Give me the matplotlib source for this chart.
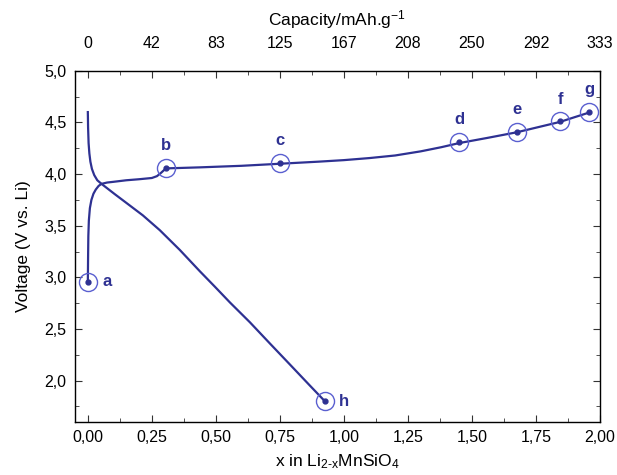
import matplotlib
matplotlib.use("Agg")
import matplotlib.pyplot as plt
from matplotlib.ticker import MultipleLocator, FuncFormatter

plt.rcParams['font.family'] = ['Liberation Sans', 'DejaVu Sans']
plt.rcParams['mathtext.fontset'] = 'custom'
plt.rcParams['mathtext.rm'] = 'Liberation Sans'
plt.rcParams['mathtext.it'] = 'Liberation Sans'

# charge curve (x in Li2-xMnSiO4, voltage)
charge_x = [0.0, 0.001, 0.002, 0.004, 0.008, 0.014, 0.022, 0.031, 0.042, 0.053, 0.075,
            0.10, 0.15, 0.20, 0.25, 0.27, 0.285, 0.305,
            0.4375, 0.60, 0.75, 0.90, 1.00, 1.10, 1.20, 1.30, 1.38, 1.45,
            1.56, 1.676, 1.76, 1.844, 1.90, 1.957]
charge_v = [2.95, 3.20, 3.40, 3.55, 3.67, 3.75, 3.81, 3.85, 3.885, 3.905, 3.918,
            3.925, 3.94, 3.95, 3.962, 3.98, 4.01, 4.055,
            4.065, 4.08, 4.10, 4.12, 4.135, 4.155, 4.18, 4.22, 4.26, 4.30,
            4.35, 4.405, 4.455, 4.505, 4.55, 4.595]
# discharge curve
dis_x = [0.0, 0.001, 0.003, 0.006, 0.010, 0.016, 0.025, 0.037, 0.0535, 0.105, 0.151,
         0.215, 0.281, 0.359, 0.4375, 0.496, 0.555, 0.633, 0.711, 0.789, 0.867, 0.926]
dis_v = [4.60, 4.45, 4.30, 4.20, 4.12, 4.05, 3.99, 3.94, 3.905, 3.806, 3.72,
         3.60, 3.457, 3.266, 3.059, 2.91, 2.757, 2.565, 2.36, 2.157, 1.953, 1.80]

# marked points
pt_labels = ['a', 'b', 'c', 'd', 'e', 'f', 'g', 'h']
pt_x = [0.0, 0.305, 0.75, 1.45, 1.676, 1.844, 1.957, 0.926]
pt_v = [2.96, 4.06, 4.11, 4.31, 4.41, 4.51, 4.60, 1.80]
label_pos = ['right', 'above', 'above', 'above', 'above', 'above', 'above', 'right']

x_ticks = [0.0, 0.25, 0.5, 0.75, 1.0, 1.25, 1.5, 1.75, 2.0]
cap_labels = ['0', '42', '83', '125', '167', '208', '250', '292', '333']

line_c = '#2e3192'
circ_c = '#5a5fd0'
tick_fs = 11.5
lab_fs = 12.5

fig = plt.figure(figsize=(6.17, 4.75), dpi=100)
ax = fig.add_axes([0.1216, 0.1116, 0.8508, 0.7394])

ax.plot(charge_x, charge_v, color=line_c, lw=1.6, zorder=3, solid_joinstyle='round')
ax.plot(dis_x, dis_v, color=line_c, lw=1.6, zorder=3, solid_joinstyle='round')
ax.plot(pt_x, pt_v, 'o', color=line_c, ms=3.5, zorder=4)
ax.plot(pt_x, pt_v, 'o', mfc='none', mec=circ_c, ms=13, mew=1.0, zorder=4)

for lab, x, v, pos in zip(pt_labels, pt_x, pt_v, label_pos):
    if pos == 'right':
        ax.annotate(lab, (x, v), xytext=(14, 0), textcoords='offset points',
                    ha='center', va='center', fontsize=12, fontweight='bold', color=line_c)
    else:
        ax.annotate(lab, (x, v), xytext=(0, 16), textcoords='offset points',
                    ha='center', va='center', fontsize=12, fontweight='bold', color=line_c)

ax.set_xlim(-0.05, 2.0)
ax.set_ylim(1.6, 5.0)
ax.set_xticks(x_ticks)
ax.xaxis.set_minor_locator(MultipleLocator(0.125))
ax.yaxis.set_major_locator(MultipleLocator(0.5))
ax.yaxis.set_minor_locator(MultipleLocator(0.25))
ax.xaxis.set_major_formatter(FuncFormatter(lambda v, p: f"{v:.2f}".replace('.', ',')))
ax.yaxis.set_major_formatter(FuncFormatter(lambda v, p: f"{v:.1f}".replace('.', ',')))
ax.tick_params(which='both', direction='in', right=True, labelsize=tick_fs, color='#333333')
ax.tick_params(which='major', length=5)
ax.tick_params(which='minor', length=3)
ax.tick_params(axis='x', pad=6)
ax.tick_params(axis='y', pad=6)
for s in ax.spines.values():
    s.set_color('#333333')
    s.set_linewidth(1.0)

ax.set_xlabel(r'x in Li$_{\mathregular{2\text{-}x}}$MnSiO$_{\mathregular{4}}$', fontsize=lab_fs, labelpad=5)
ax.set_ylabel('Voltage (V vs. Li)', fontsize=lab_fs, labelpad=10)

ax2 = ax.twiny()
ax2.set_xlim(ax.get_xlim())
ax2.set_xticks(x_ticks)
ax2.set_xticklabels(cap_labels)
ax2.xaxis.set_minor_locator(MultipleLocator(0.125))
ax2.tick_params(which='both', direction='in', labelsize=tick_fs, color='#333333', pad=14)
ax2.tick_params(which='major', length=5)
ax2.tick_params(which='minor', length=3)
ax2.set_xlabel(r'Capacity/mAh.g$^{\mathregular{-1}}$', fontsize=lab_fs, labelpad=8)

fig.savefig('out.png', dpi=100)
